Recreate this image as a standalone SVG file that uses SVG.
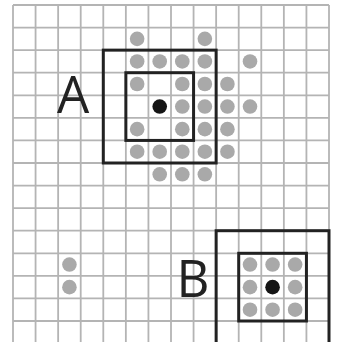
<svg xmlns="http://www.w3.org/2000/svg" width="342" height="342" viewBox="0 0 342 342">
  <style>
    .grid { stroke: #b4b4b4; stroke-width: 1.8; fill: none; }
    .g { fill: #a9a9a9; }
    .k { fill: #151515; }
    .box { fill: none; stroke: #222; stroke-width: 3; }
    .lbl { font-family: "Open Sans", "Liberation Sans", sans-serif; font-weight: 400; font-size: 51px; fill: #222; text-anchor: middle; }
  </style>
  <defs>
    <circle id="gd" r="7.3" class="g"/>
    <circle id="kd" r="7.3" class="k"/>
  </defs>
  <rect width="342" height="342" fill="#fff"/>
  <g id="grid" class="grid">
    <path d="M13 5V342M35.57 5V342M58.14 5V342M80.71 5V342M103.29 5V342M125.86 5V342M148.43 5V342M171 5V342M193.57 5V342M216.14 5V342M238.71 5V342M261.29 5V342M283.86 5V342M306.43 5V342M329 5V342"/>
    <path d="M13 5H329M13 27.57H329M13 50.14H329M13 72.71H329M13 95.29H329M13 117.86H329M13 140.43H329M13 163H329M13 185.57H329M13 208.14H329M13 230.71H329M13 253.29H329M13 275.86H329M13 298.43H329M13 321H329"/>
  </g>
  <g id="dotsA">
    <use href="#gd" x="137.14" y="38.86"/><use href="#gd" x="204.86" y="38.86"/>
    <use href="#gd" x="137.14" y="61.43"/><use href="#gd" x="159.71" y="61.43"/><use href="#gd" x="182.29" y="61.43"/><use href="#gd" x="204.86" y="61.43"/><use href="#gd" x="250" y="61.43"/>
    <use href="#gd" x="137.14" y="84"/><use href="#gd" x="182.29" y="84"/><use href="#gd" x="204.86" y="84"/><use href="#gd" x="227.43" y="84"/>
    <use href="#gd" x="182.29" y="106.57"/><use href="#gd" x="204.86" y="106.57"/><use href="#gd" x="227.43" y="106.57"/><use href="#gd" x="250" y="106.57"/>
    <use href="#gd" x="137.14" y="129.14"/><use href="#gd" x="182.29" y="129.14"/><use href="#gd" x="204.86" y="129.14"/><use href="#gd" x="227.43" y="129.14"/>
    <use href="#gd" x="137.14" y="151.71"/><use href="#gd" x="159.71" y="151.71"/><use href="#gd" x="182.29" y="151.71"/><use href="#gd" x="204.86" y="151.71"/><use href="#gd" x="227.43" y="151.71"/>
    <use href="#gd" x="159.71" y="174.29"/><use href="#gd" x="182.29" y="174.29"/><use href="#gd" x="204.86" y="174.29"/>
    <use href="#kd" x="159.71" y="106.57"/>
  </g>
  <g id="dotsLeft">
    <use href="#gd" x="69.43" y="264.57"/><use href="#gd" x="69.43" y="287.14"/>
  </g>
  <g id="dotsB">
    <use href="#gd" x="250" y="264.57"/><use href="#gd" x="272.57" y="264.57"/><use href="#gd" x="295.14" y="264.57"/>
    <use href="#gd" x="250" y="287.14"/><use href="#gd" x="295.14" y="287.14"/>
    <use href="#gd" x="250" y="309.71"/><use href="#gd" x="272.57" y="309.71"/><use href="#gd" x="295.14" y="309.71"/>
    <use href="#kd" x="272.57" y="287.14"/>
  </g>
  <g id="nodeA">
    <rect class="box" x="103.29" y="50.14" width="112.85" height="112.86"/>
    <rect class="box" x="125.86" y="72.71" width="67.71" height="67.72"/>
    <text class="lbl" x="73" y="113">A</text>
  </g>
  <g id="nodeB">
    <rect class="box" x="216.14" y="230.71" width="112.86" height="112.86"/>
    <rect class="box" x="238.71" y="253.29" width="67.72" height="67.71"/>
    <text class="lbl" x="193" y="297">B</text>
  </g>
</svg>
